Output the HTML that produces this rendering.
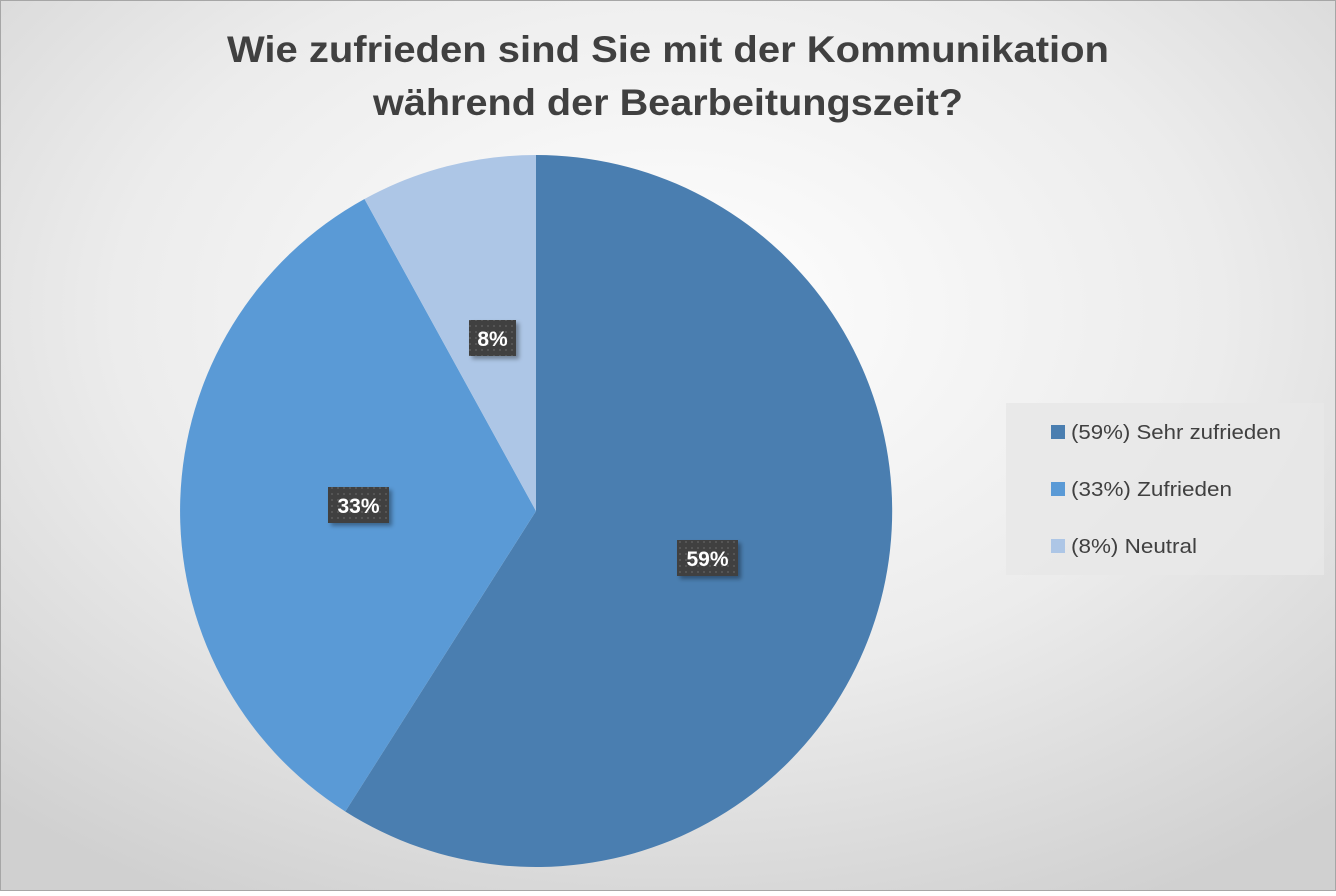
<!DOCTYPE html>
<html><head><meta charset="utf-8"><style>
html,body{margin:0;padding:0;}
body{width:1336px;height:891px;overflow:hidden;background:#fff;}
</style></head><body>
<svg width="1336" height="891" viewBox="0 0 1336 891" xmlns="http://www.w3.org/2000/svg" font-family="Liberation Sans, sans-serif">
<defs>
<radialGradient id="bg" cx="0.5" cy="0.35" r="0.75">
<stop offset="0" stop-color="#ffffff"/>
<stop offset="0.55" stop-color="#ececec"/>
<stop offset="1" stop-color="#d0d0d0"/>
</radialGradient>
<pattern id="dots" width="6" height="6" patternUnits="userSpaceOnUse">
<rect width="6" height="6" fill="#404040"/>
<rect x="1" y="1" width="2" height="2" fill="#555"/>
</pattern>
<filter id="sh" x="-20%" y="-20%" width="150%" height="150%"><feDropShadow dx="3" dy="3" stdDeviation="2" flood-color="#000" flood-opacity="0.35"/></filter>
</defs>
<rect x="0.5" y="0.5" width="1335" height="890" fill="url(#bg)" stroke="#a6a6a6"/>
<text x="668" y="62" text-anchor="middle" font-size="37" font-weight="bold" fill="#404040" textLength="882" lengthAdjust="spacingAndGlyphs">Wie zufrieden sind Sie mit der Kommunikation</text>
<text x="668" y="115" text-anchor="middle" font-size="37" font-weight="bold" fill="#404040" textLength="590" lengthAdjust="spacingAndGlyphs">während der Bearbeitungszeit?</text>
<path d="M536,511 L536,155 A356,356 0 1 1 345.3,811.5 Z" fill="#4a7eb0"/>
<path d="M536,511 L345.3,811.5 A356,356 0 0 1 364.5,199 Z" fill="#5a9ad6"/>
<path d="M536,511 L364.5,199 A356,356 0 0 1 536,155 Z" fill="#adc6e6"/>
<g filter="url(#sh)">
<rect x="677" y="540" width="61" height="36" fill="url(#dots)"/>
<rect x="328" y="487" width="61" height="36" fill="url(#dots)"/>
<rect x="469" y="320" width="47" height="36" fill="url(#dots)"/>
</g>
<g font-size="21" font-weight="bold" fill="#fff" text-anchor="middle">
<text x="707.5" y="566">59%</text>
<text x="358.5" y="513">33%</text>
<text x="492.5" y="346">8%</text>
</g>
<rect x="1006" y="403" width="318" height="172" fill="#e8e8e8" opacity="0.85"/>
<rect x="1051" y="425" width="14" height="14" fill="#4a7eb0"/>
<rect x="1051" y="482" width="14" height="14" fill="#5a9ad6"/>
<rect x="1051" y="539" width="14" height="14" fill="#adc6e6"/>
<g font-size="20" fill="#404040">
<text x="1071" y="439" textLength="210" lengthAdjust="spacingAndGlyphs">(59%) Sehr zufrieden</text>
<text x="1071" y="496" textLength="161" lengthAdjust="spacingAndGlyphs">(33%) Zufrieden</text>
<text x="1071" y="553" textLength="126" lengthAdjust="spacingAndGlyphs">(8%) Neutral</text>
</g>
</svg>
</body></html>
